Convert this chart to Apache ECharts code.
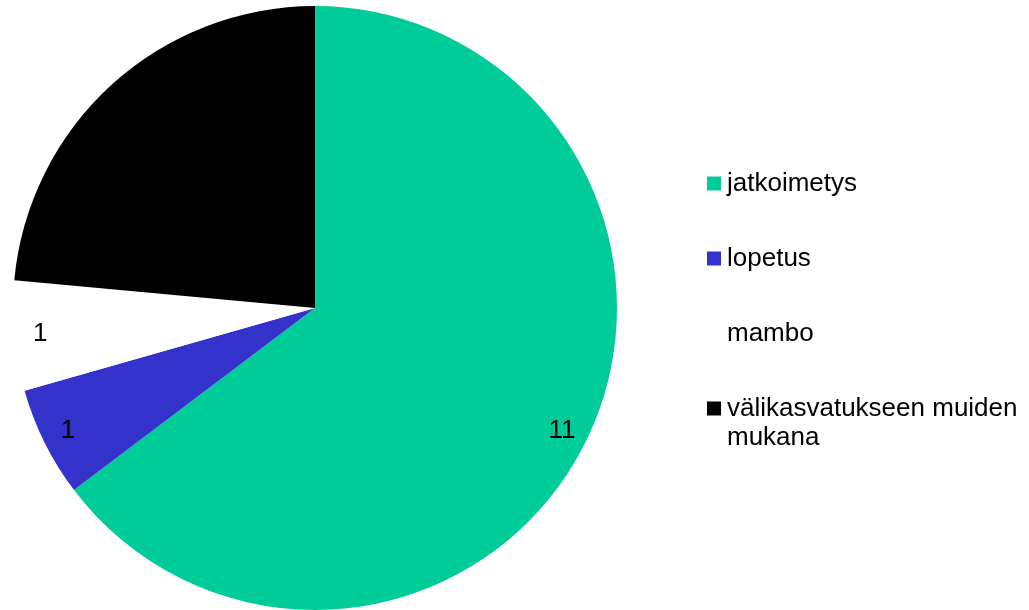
<!DOCTYPE html>
<html>
<head>
<meta charset="utf-8">
<script src="https://cdn.jsdelivr.net/npm/echarts@6/dist/echarts.min.js"></script>
<style>html,body{margin:0;padding:0;background:#fff}#c{width:1029px;height:610px}</style>
</head>
<body>
<div id="c"></div>
<script>
const categories = ['jatkoimetys', 'lopetus', 'mambo', 'välikasvatukseen muiden mukana'];
const legendFirstLine = ['jatkoimetys', 'lopetus', 'mambo', 'välikasvatukseen muiden'];
const legendSecondLine = ['', '', '', 'mukana'];
const values = [11, 1, 1, 4];
const colors = ['#00CC99', '#3333CC', '#FFFFFF', '#000000'];

const font = 'Liberation Sans, Arial, sans-serif';
const chart = echarts.init(document.getElementById('c'));
const pieData = categories.map((n, i) => ({ name: n, value: values[i], itemStyle: { color: colors[i] } }));
const labelData = categories.map((n, i) => ({ name: n, value: values[i], itemStyle: { color: 'rgba(0,0,0,0)' } }));

const legendTop = 168, legendLeft = 707, lineH = 31, gap = 44;
const graphics = [];
legendSecondLine.forEach((t, i) => {
  if (t) graphics.push({
    type: 'text', left: legendLeft + 20, top: legendTop + i * (lineH + gap) + lineH + 1,
    style: { text: t, fontFamily: font, fontSize: 26, fill: '#000' }
  });
});

chart.setOption({
  animation: false,
  legend: {
    orient: 'vertical',
    left: legendLeft,
    top: legendTop,
    padding: 0,
    itemWidth: 14,
    itemHeight: 14,
    itemGap: gap,
    icon: 'rect',
    formatter: name => legendFirstLine[categories.indexOf(name)],
    textStyle: { fontFamily: font, fontSize: 26, color: '#000', lineHeight: lineH, padding: [0, 0, 0, 1] },
    data: categories
  },
  graphic: graphics,
  series: [
    {
      type: 'pie',
      center: [315, 308],
      radius: [0, 302],
      startAngle: 90,
      clockwise: true,
      silent: true,
      label: { show: false },
      labelLine: { show: false },
      data: pieData
    },
    {
      type: 'pie',
      center: [315, 308],
      radius: [244, 302],
      startAngle: 90,
      clockwise: true,
      silent: true,
      legendHoverLink: false,
      label: { show: true, position: 'inside', formatter: '{c}', fontFamily: font, fontSize: 26, color: '#000' },
      labelLine: { show: false },
      data: labelData
    }
  ]
});
</script>
</body>
</html>
